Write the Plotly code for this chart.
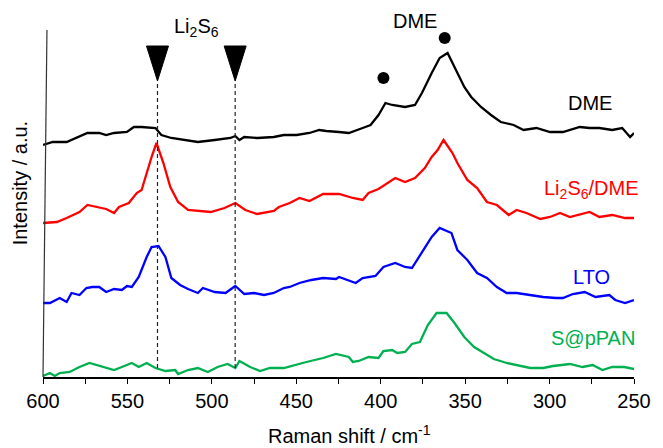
import plotly.graph_objects as go

# ---- data (Raman shift in cm-1, stacked intensity in a.u.) ----
dme_shift = [600.0,594.2,586.0,580.1,573.7,566.7,562.6,557.9,550.3,546.2,541.6,533.4,529.9,524.0,515.9,508.3,498.3,489.0,486.1,483.7,480.8,473.2,463.3,457.4,449.8,442.2,436.4,432.3,424.7,418.9,410.7,406.0,401.3,397.2,393.2,385.6,379.7,375.6,369.8,365.1,360.4,356.3,350.5,346.4,340.6,334.7,328.9,321.3,315.4,307.8,299.7,292.1,282.1,276.3,270.5,262.9,257.0,252.3,250.0]
dme_int = [232,235,235,239,244,244,242,244,245,250,250,249,242,239,237,235,237,239,241,237,240,239,240,242,242,244,247,246,245,244,249,252,262,274,272,270,272,284,304,319,324,310,290,280,270,262,255,252,247,249,245,245,250,249,249,247,249,240,244]

li2s6_shift = [600.0,591.8,586.0,578.4,573.7,568.4,562.6,557.9,555.0,549.2,544.5,541.6,538.6,535.7,532.8,528.7,524.6,520.0,514.1,508.3,500.7,492.5,486.1,480.2,473.2,463.3,460.3,453.9,448.1,442.2,434.1,424.7,416.5,410.7,407.2,401.3,395.5,391.4,385.6,379.7,373.9,369.8,366.3,362.8,357.5,354.6,348.7,342.9,337.1,331.2,324.2,319.5,313.7,305.5,299.7,293.8,288.0,276.3,270.5,262.9,255.3,250.0]
li2s6_int = [154,155,159,165,172,170,168,164,170,174,184,187,204,220,234,214,190,175,167,166,165,169,174,167,163,166,170,174,179,176,183,183,179,177,184,188,194,199,195,199,209,220,227,237,224,214,197,189,175,172,162,167,164,158,160,164,160,165,160,162,159,159]

lto_shift = [600.0,595.9,590.1,586.0,583.1,578.4,574.3,570.8,566.7,562.6,557.9,553.3,550.3,547.4,543.3,538.6,535.7,531.6,527.5,524.0,518.8,514.1,508.3,505.3,498.3,491.9,486.1,480.8,475.0,469.1,463.3,457.4,453.9,448.1,441.1,434.1,426.5,424.7,414.8,410.7,403.1,398.4,391.4,385.6,381.5,375.6,369.8,365.1,358.1,354.6,348.7,342.9,337.1,331.2,325.4,319.5,311.4,303.8,296.2,292.1,286.2,279.2,272.8,264.6,261.1,255.3,250.0]
lto_int = [74,74,79,75,84,82,89,90,90,85,88,87,91,90,100,120,130,131,120,99,92,88,84,89,85,84,91,83,84,82,84,89,90,94,97,99,98,100,94,99,101,110,114,110,109,124,140,149,144,127,117,104,99,90,84,84,82,80,79,79,83,85,80,82,77,74,77]

span_shift = [600.0,595.9,593.0,590.1,584.2,578.4,572.5,566.7,562.6,557.9,553.3,547.4,543.3,538.6,533.4,527.5,521.7,520.0,514.1,508.3,502.4,496.6,490.7,486.1,483.7,477.3,471.5,465.6,457.4,449.8,444.0,434.1,426.5,418.9,416.5,413.0,407.2,401.3,398.4,393.2,390.2,385.6,381.5,376.8,372.1,366.9,361.0,356.3,350.5,344.7,338.8,333.0,325.4,319.5,311.4,303.8,297.9,288.0,280.4,274.5,268.7,262.9,255.8,250.0]
span_int = [1,4,1,4,5,10,14,11,9,7,10,14,10,14,9,6,7,3,7,9,5,10,13,9,16,10,6,9,9,12,15,19,23,20,15,16,20,19,26,27,24,25,33,35,52,64,64,54,40,30,24,18,14,12,9,9,11,13,10,12,7,10,10,8]

series_names = ["DME", "Li<sub>2</sub>S<sub>6</sub>/DME", "LTO", "S@pPAN"]
series_colors = ["#000000", "#ff0000", "#0000ff", "#00b050"]
# label anchor positions (fraction of plot area)
label_px = [0.966, 1.0117, 0.963, 1.005]
label_py = [0.791, 0.540, 0.289, 0.1124]

li2s6_peaks = [532.2, 486.2]
peak_marker_y = 296
dashed_bottom = 9
dme_dot_x = [398.4, 362.1]
dme_dot_y = [299, 339]

x_ticks = [600, 550, 500, 450, 400, 350, 300, 250]

FONT = "Liberation Sans, Arial, sans-serif"

fig = go.Figure()
all_x = [dme_shift, li2s6_shift, lto_shift, span_shift]
all_y = [dme_int, li2s6_int, lto_int, span_int]
for xs, ys, name, col in zip(all_x, all_y, series_names, series_colors):
    fig.add_trace(go.Scatter(x=xs, y=ys, mode="lines", name=name,
                             line=dict(color=col, width=2.3), showlegend=False))

# DME peak dots
fig.add_trace(go.Scatter(x=dme_dot_x, y=dme_dot_y, mode="markers",
                         marker=dict(symbol="circle", size=12, color="black"),
                         showlegend=False, cliponaxis=False))

# dashed lines and triangles for Li2S6 peaks
for p in li2s6_peaks:
    fig.add_shape(type="line", xref="x", yref="y", x0=p, x1=p,
                  y0=dashed_bottom, y1=peak_marker_y,
                  line=dict(color="#222222", width=1.2, dash="4px,3px"))
    fig.add_shape(type="path", xref="x", yref="y",
                  xsizemode="pixel", ysizemode="pixel",
                  xanchor=p, yanchor=peak_marker_y,
                  path="M -11,35 L 11,35 L 0,0 Z",
                  fillcolor="black", line=dict(color="black", width=1))

# slanted left axis line
fig.add_shape(type="line", xref="paper", yref="paper", x0=0, y0=0, x1=0.0067, y1=1,
              line=dict(color="#333333", width=1.2))

# series labels
for name, col, lx, ly in zip(series_names, series_colors, label_px, label_py):
    fig.add_annotation(x=lx, y=ly, xref="paper", yref="paper", text=name, showarrow=False,
                       xanchor="right", yanchor="middle",
                       font=dict(family=FONT, size=20, color=col))

fig.add_annotation(x=0.2596, y=1.0086, xref="paper", yref="paper",
                   text="Li<sub>2</sub>S<sub>6</sub>",
                   showarrow=False, xanchor="center", yanchor="middle",
                   font=dict(family=FONT, size=20, color="black"))
fig.add_annotation(x=0.6286, y=1.026, xref="paper", yref="paper", text="DME",
                   showarrow=False, xanchor="center", yanchor="middle",
                   font=dict(family=FONT, size=20, color="black"))

# axis titles as annotations
fig.add_annotation(x=-0.0384, y=0.559, xref="paper", yref="paper",
                   text="Intensity / a.u.", textangle=-90, showarrow=False,
                   xanchor="center", yanchor="middle",
                   font=dict(family=FONT, size=20, color="black"))
fig.add_annotation(x=0.519, y=-0.167, xref="paper", yref="paper",
                   text="Raman shift / cm<sup>-1</sup>", showarrow=False,
                   xanchor="center", yanchor="middle",
                   font=dict(family=FONT, size=20, color="black"))

fig.update_layout(
    width=663, height=448,
    margin=dict(l=43, r=21, t=30, b=71),
    paper_bgcolor="white", plot_bgcolor="white",
    font=dict(family=FONT, size=20, color="black"),
    xaxis=dict(range=[600, 250], tickvals=x_ticks, ticks="outside", ticklen=5,
               tickwidth=1.2, tickcolor="black", showline=True, linecolor="black",
               linewidth=1.6, showgrid=False, zeroline=False,
               tickfont=dict(family=FONT, size=20, color="black"),
               minor=dict(dtick=25, tick0=250, ticks="outside", ticklen=5,
                          tickwidth=1.2, tickcolor="black", showgrid=False)),
    yaxis=dict(range=[0, 347], showticklabels=False, showgrid=False,
               zeroline=False, showline=False, ticks=""),
)

fig.write_html("out.html", config={"displayModeBar": False},
               post_script="document.body.style.margin='0';")
